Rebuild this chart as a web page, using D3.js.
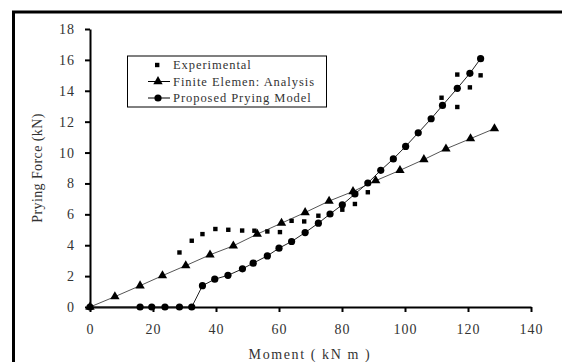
<!DOCTYPE html>
<html><head><meta charset="utf-8">
<script src="https://cdn.jsdelivr.net/npm/d3@7"></script>
<style>body{margin:0;background:#fff}svg{display:block}</style>
</head><body>
<script>
const xTicks = [0,20,40,60,80,100,120,140];
const yTicks = [0,2,4,6,8,10,12,14,16,18];
const seriesNames = ["Experimental","Finite Elemen: Analysis","Proposed Prying Model"];

const expM = [28.4,32.3,35.7,39.8,43.9,48.3,52.2,56.3,60.3,64,68,72.5,80.1,84.1,88.2,111.6,116.6,116.6,120.6,124];
const expF = [3.53,4.29,4.72,5.05,5.0,4.95,4.94,4.89,4.85,5.58,5.54,5.91,6.3,6.67,7.43,13.55,12.95,15.05,14.22,15.0];

const feM = [0,7.9,15.9,23,30.4,38.1,45.5,53.1,60.8,68.3,75.9,83.5,90.7,98.4,106,113,120.8,128.4];
const feF = [0,0.67,1.38,2.03,2.68,3.38,3.96,4.72,5.43,6.12,6.86,7.48,8.18,8.85,9.55,10.24,10.9,11.55];

const pmM = [0,15.9,19.6,23.8,28.4,32.3,35.7,39.6,43.8,48.4,51.8,56.3,60,64,68.3,72.5,76.2,80.1,84.1,88.2,92.3,96.3,100.2,104.2,108.3,111.9,116.6,120.6,124];
const pmF = [0,0,0,0,0,0,1.38,1.8,2.05,2.47,2.84,3.31,3.81,4.24,4.82,5.43,6.02,6.62,7.32,8.03,8.85,9.59,10.4,11.28,12.19,13.05,14.16,15.13,16.08];

const W=562,H=362;
const svg=d3.select("body").append("svg").attr("width",W).attr("height",H);
svg.append("rect").attr("width",W).attr("height",H).attr("fill","#fff");
// frame (clipped on right/bottom)
svg.append("rect").attr("x",13.5).attr("y",12).attr("width",W+20).attr("height",H+20)
  .attr("fill","none").attr("stroke","#000").attr("stroke-width",3);

const x=d3.scaleLinear().domain([0,140]).range([90,531]);
const y=d3.scaleLinear().domain([0,18]).range([307,29]);
const font="'Liberation Serif','Times New Roman',serif";
const tc="#333";

const xa=svg.append("g").attr("transform","translate(0,307)")
  .call(d3.axisBottom(x).tickValues(xTicks).tickSize(5).tickPadding(12).tickSizeOuter(0));
const ya=svg.append("g").attr("transform","translate(90,0)")
  .call(d3.axisLeft(y).tickValues(yTicks).tickSize(5).tickPadding(10).tickSizeOuter(0));
[xa,ya].forEach(a=>{
  a.select(".domain").attr("stroke","#000").attr("stroke-width",2);
  a.selectAll(".tick line").attr("stroke","#000").attr("stroke-width",2);
  a.selectAll("text").attr("font-family",font).attr("font-size",14).attr("letter-spacing",1).attr("fill",tc);
});

svg.append("text").attr("x",310).attr("y",359).attr("text-anchor","middle")
  .attr("font-family",font).attr("font-size",14).attr("letter-spacing",1.6).attr("fill",tc).text("Moment ( kN m )");
svg.append("text").attr("transform","translate(42,168) rotate(-90)").attr("text-anchor","middle")
  .attr("font-family",font).attr("font-size",14).attr("letter-spacing",0.4).attr("fill",tc).text("Prying Force (kN)");

const line=d3.line().x(d=>x(d[0])).y(d=>y(d[1]));
const fe=feM.map((m,i)=>[m,feF[i]]);
const pm=pmM.map((m,i)=>[m,pmF[i]]);
const ex=expM.map((m,i)=>[m,expF[i]]);

svg.append("path").datum(fe).attr("d",line).attr("fill","none").attr("stroke","#555").attr("stroke-width",1);
svg.append("path").datum(pm).attr("d",line).attr("fill","none").attr("stroke","#222").attr("stroke-width",1);

const tri=d3.symbol().type(d3.symbolTriangle).size(38);
svg.selectAll(".fe").data(fe).enter().append("path")
  .attr("d",tri).attr("transform",d=>`translate(${x(d[0])},${y(d[1])})`).attr("fill","#000");
svg.selectAll(".pm").data(pm).enter().append("circle")
  .attr("cx",d=>x(d[0])).attr("cy",d=>y(d[1])).attr("r",3.6).attr("fill","#000");
svg.selectAll(".ex").data(ex).enter().append("rect")
  .attr("x",d=>x(d[0])-2.2).attr("y",d=>y(d[1])-2.2).attr("width",4.4).attr("height",4.4).attr("fill","#000");

// legend
const lg=svg.append("g");
lg.append("rect").attr("x",127.5).attr("y",56).attr("width",199).attr("height",51)
  .attr("fill","#fff").attr("stroke","#000").attr("stroke-width",1);
const ly=[65,81.5,98];
lg.append("rect").attr("x",155).attr("y",ly[0]-2.2).attr("width",4.4).attr("height",4.4).attr("fill","#000");
lg.append("line").attr("x1",148).attr("x2",170).attr("y1",ly[1]).attr("y2",ly[1]).attr("stroke","#000");
lg.append("path").attr("d",tri).attr("transform",`translate(158,${ly[1]})`).attr("fill","#000");
lg.append("line").attr("x1",148).attr("x2",170).attr("y1",ly[2]).attr("y2",ly[2]).attr("stroke","#000");
lg.append("circle").attr("cx",158).attr("cy",ly[2]).attr("r",3.6).attr("fill","#000");
seriesNames.forEach((n,i)=>{
  lg.append("text").attr("x",173).attr("y",ly[i]+4).attr("font-family",font).attr("font-size",12.5)
    .attr("letter-spacing",0.95).attr("fill",tc).text(n);
});
</script>
</body></html>
